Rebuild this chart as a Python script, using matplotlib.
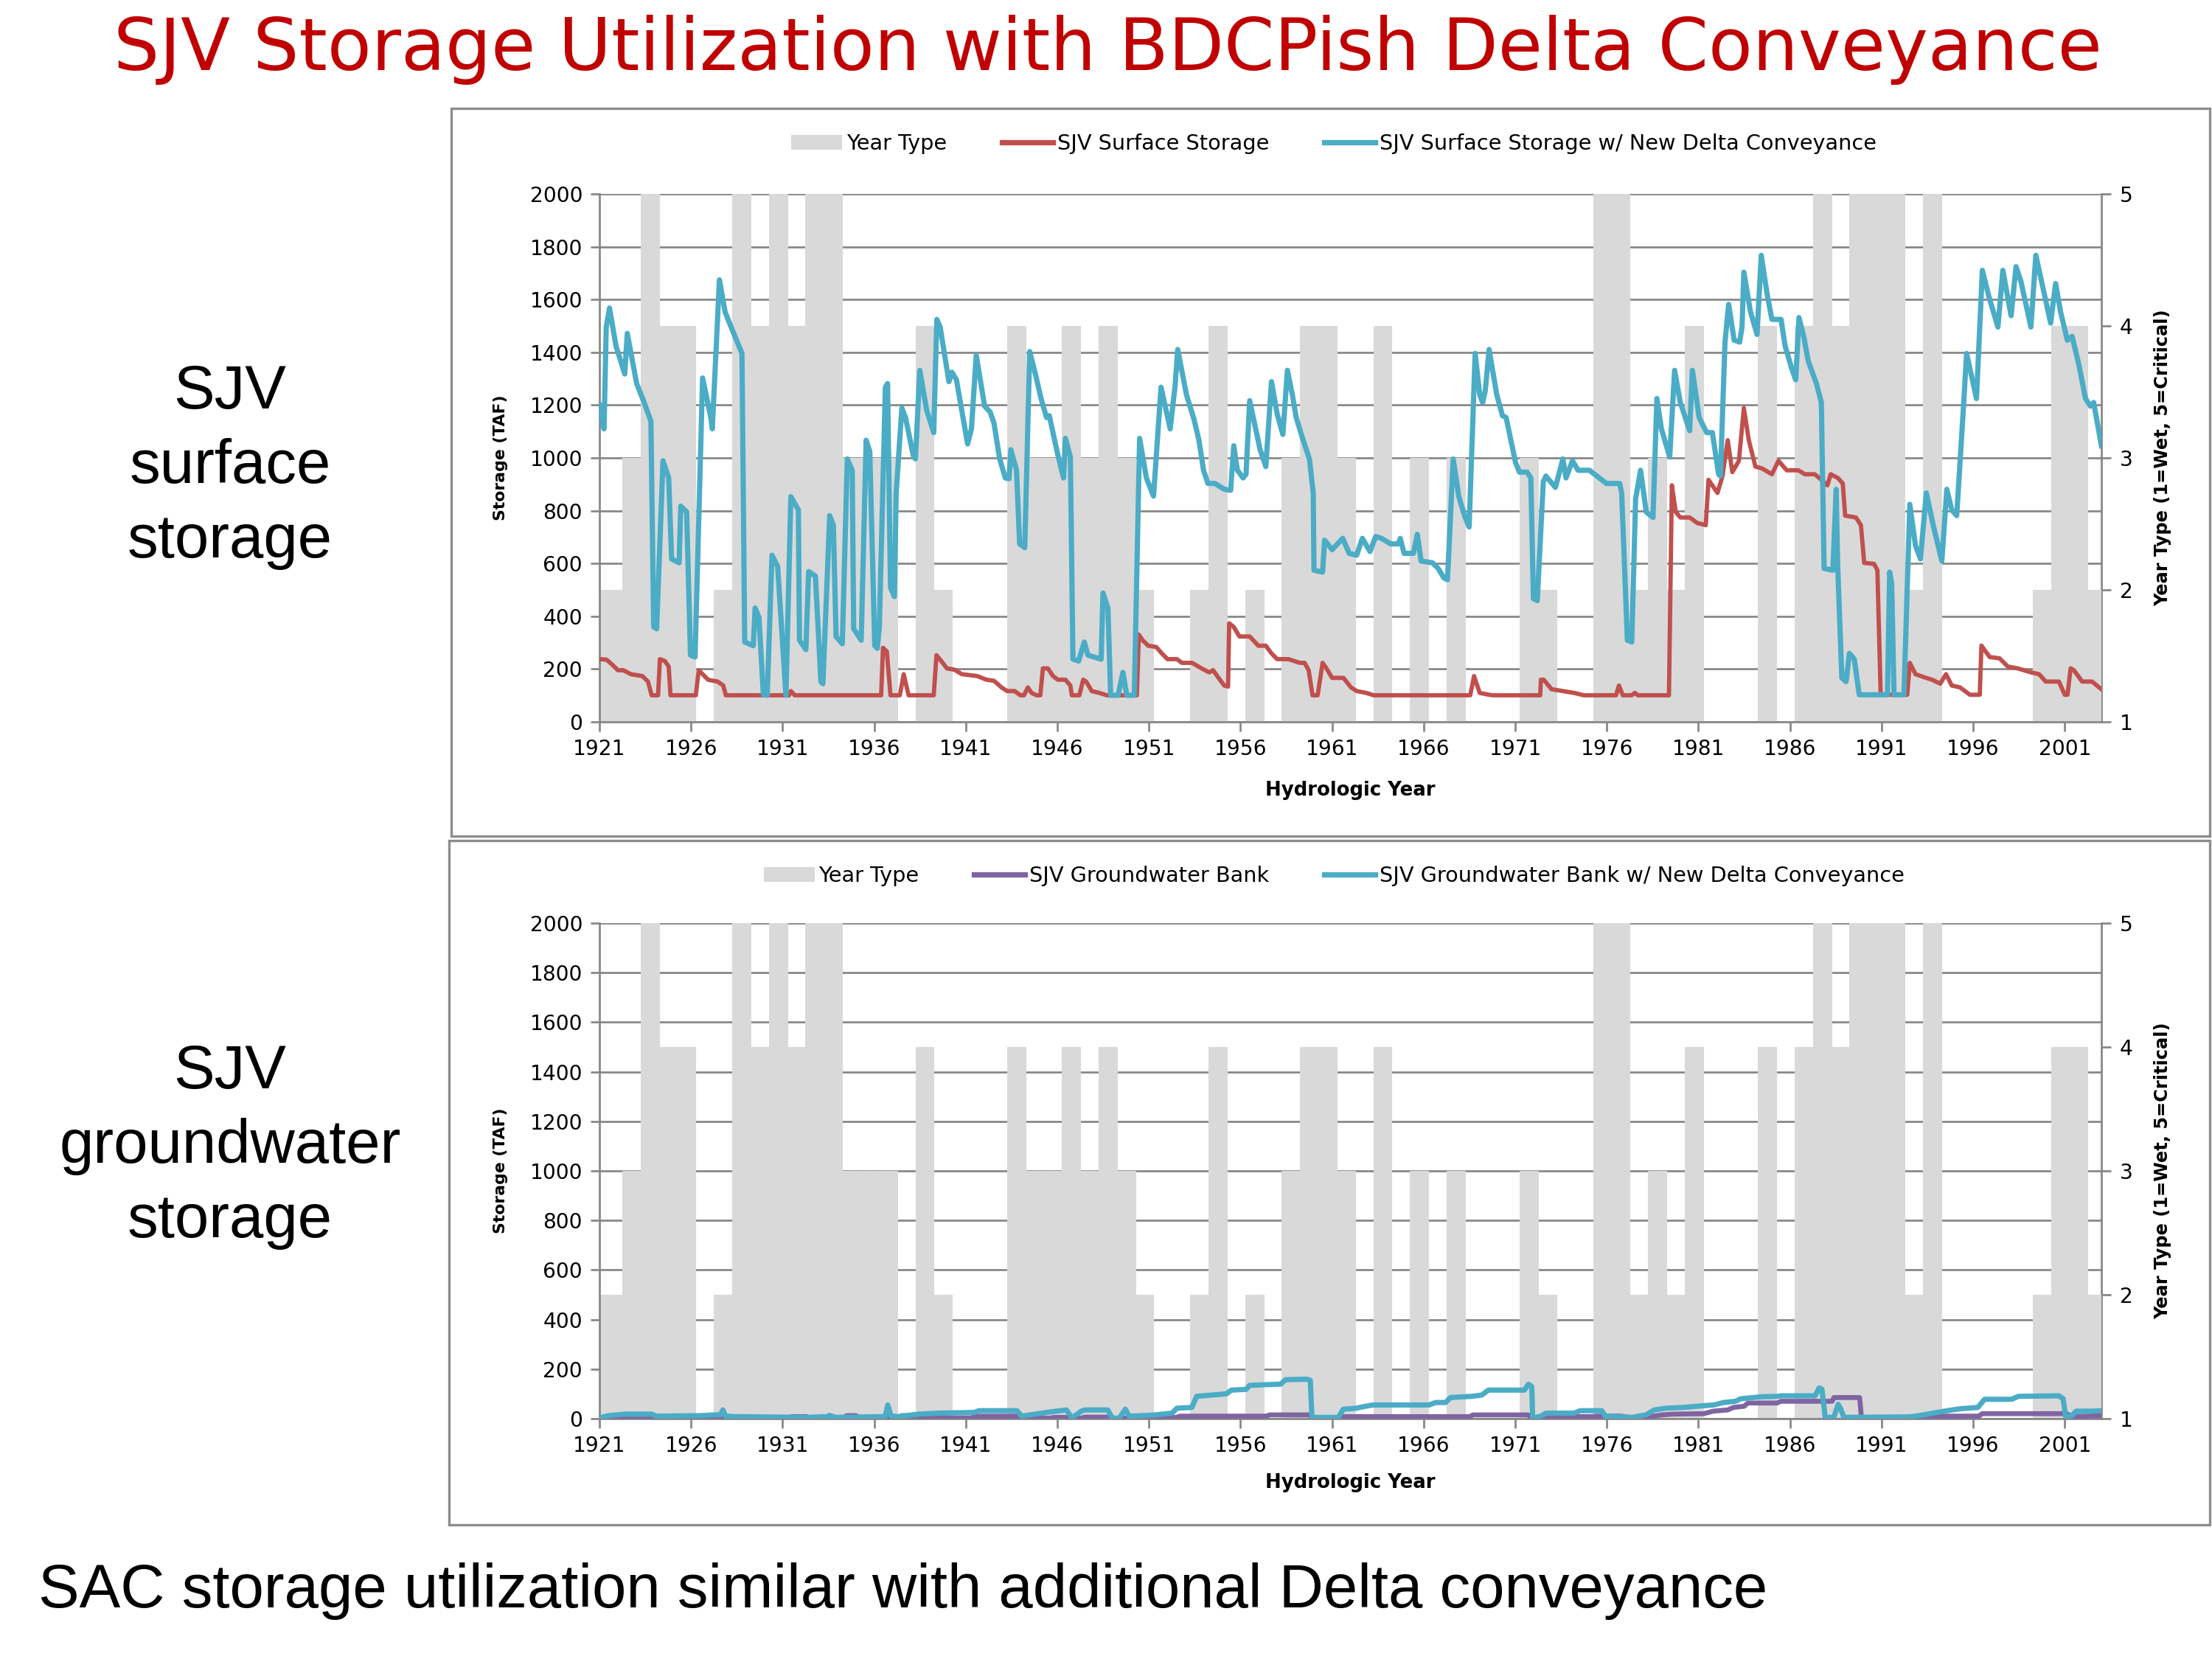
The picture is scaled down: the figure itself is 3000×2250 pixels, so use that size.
import matplotlib
matplotlib.use('Agg')

import matplotlib.pyplot as plt
from matplotlib.patches import Patch, Rectangle
from matplotlib.lines import Line2D
import numpy as np

# -----------------------------
# DATA
# -----------------------------
years = list(range(1921, 2004))
year_type = [2, 2, 3, 5, 4, 4, 1, 2, 5, 4,
             5, 4, 5, 5, 3, 3, 3, 1, 4, 2,
             1, 1, 1, 4, 3, 3, 4, 3, 4, 3,
             2, 1, 1, 2, 4, 1, 2, 1, 3, 4,
             4, 3, 1, 4, 1, 3, 1, 3, 1, 1,
             1, 3, 2, 1, 1, 5, 5, 2, 3, 2,
             4, 1, 1, 1, 4, 1, 4, 5, 4, 5,
             5, 5, 2, 5, 1, 1, 1, 1, 1, 2,
             4, 4, 2]

# (years after Oct 1921, TAF)
surface_base = [
    (0, 237), (0.39, 235), (0.70, 216), (1.01, 195), (1.31, 195), (1.72, 180), (2.34, 173),
    (2.65, 152), (2.85, 100), (3.20, 100), (3.30, 237), (3.57, 230), (3.78, 209), (3.88, 100),
    (5.26, 100), (5.42, 195), (5.63, 180), (5.93, 159), (6.45, 152), (6.76, 137), (6.90, 100),
    (10.35, 100), (10.45, 116), (10.66, 100), (15.38, 100), (15.48, 280), (15.69, 266),
    (15.89, 100), (16.40, 100), (16.61, 180), (16.88, 100), (18.25, 100), (18.40, 252),
    (18.66, 230), (18.97, 202), (19.38, 197), (19.79, 180), (20.62, 173), (21.13, 159),
    (21.54, 155), (21.95, 130), (22.26, 116), (22.67, 116), (22.98, 100), (23.18, 100),
    (23.39, 130), (23.59, 109), (23.86, 100), (24.07, 100), (24.21, 202), (24.48, 202),
    (24.76, 173), (25.03, 159), (25.44, 159), (25.71, 137), (25.79, 100), (26.20, 100),
    (26.41, 159), (26.57, 152), (26.88, 116), (27.29, 109), (27.70, 100), (29.34, 100),
    (29.45, 330), (29.65, 309), (29.96, 288), (30.40, 283), (30.70, 259), (31.01, 237),
    (31.53, 237), (31.80, 223), (32.36, 223), (32.87, 202), (33.29, 187), (33.50, 195),
    (33.80, 166), (34.11, 137), (34.32, 133), (34.38, 373), (34.63, 359), (34.94, 323),
    (35.50, 323), (35.97, 288), (36.38, 288), (36.69, 259), (37.00, 237), (37.62, 237),
    (38.24, 223), (38.50, 223), (38.72, 195), (38.93, 100), (39.21, 100), (39.48, 223),
    (39.69, 202), (40.00, 166), (40.62, 166), (41.03, 130), (41.34, 116), (41.86, 109),
    (42.27, 100), (47.54, 100), (47.75, 173), (48.06, 109), (48.57, 102), (48.78, 100),
    (51.36, 100), (51.40, 159), (51.55, 159), (51.98, 123), (52.60, 116), (53.22, 109),
    (53.74, 100), (55.50, 100), (55.66, 137), (55.87, 100), (56.35, 100), (56.53, 109),
    (56.70, 100), (58.39, 100), (58.55, 896), (58.76, 795), (59.01, 774), (59.52, 774),
    (59.94, 753), (60.40, 745), (60.55, 917), (61.04, 867), (61.31, 931), (61.60, 1067),
    (61.85, 946), (62.21, 989), (62.48, 1189), (62.75, 1067), (63.11, 967), (63.47, 960),
    (64.01, 938), (64.37, 989), (64.82, 953), (65.45, 953), (65.81, 938), (66.35, 938),
    (66.71, 917), (67.04, 896), (67.22, 938), (67.61, 924), (67.88, 903), (68.01, 781),
    (68.60, 774), (68.87, 745), (69.05, 602), (69.59, 598), (69.77, 574), (69.95, 102),
    (71.40, 102), (71.54, 223), (71.85, 180), (72.30, 169), (72.75, 159), (73.20, 144),
    (73.52, 180), (73.83, 137), (74.28, 130), (74.82, 102), (75.36, 102), (75.45, 288),
    (75.90, 245), (76.44, 240), (76.89, 209), (77.43, 202), (78.15, 187), (78.60, 180),
    (78.96, 152), (79.68, 152), (80.00, 102), (80.15, 102), (80.32, 202), (80.50, 195),
    (80.95, 152), (81.49, 152), (82.00, 123)]

surface_new = [
    (0, 1200), (0.25, 1110), (0.37, 1496), (0.55, 1568), (0.90, 1425), (1.38, 1318),
    (1.52, 1472), (2.03, 1282), (2.44, 1210), (2.81, 1139), (2.96, 359), (3.12, 352),
    (3.47, 989), (3.78, 924), (3.94, 617), (4.35, 602), (4.44, 817), (4.76, 795), (4.97, 252),
    (5.22, 245), (5.63, 1303), (6.08, 1153), (6.16, 1110), (6.55, 1675), (6.86, 1553),
    (7.27, 1482), (7.78, 1396), (7.93, 302), (8.40, 288), (8.50, 431), (8.71, 395),
    (8.95, 102), (9.16, 100), (9.42, 631), (9.73, 588), (10.18, 100), (10.45, 853),
    (10.86, 803), (10.92, 309), (11.27, 273), (11.42, 569), (11.79, 552), (12.09, 152),
    (12.20, 144), (12.57, 781), (12.77, 745), (12.92, 323), (13.26, 295), (13.53, 996),
    (13.80, 953), (13.88, 352), (14.29, 309), (14.56, 1067), (14.76, 1024), (15.03, 288),
    (15.17, 278), (15.28, 359), (15.61, 1268), (15.73, 1282), (15.89, 509), (16.10, 474),
    (16.20, 867), (16.51, 1189), (16.71, 1153), (17.13, 1010), (17.25, 996), (17.49, 1332),
    (17.86, 1182), (18.25, 1096), (18.42, 1525), (18.60, 1496), (19.08, 1289), (19.24, 1325),
    (19.49, 1296), (20.10, 1053), (20.31, 1110), (20.57, 1389), (21.03, 1196), (21.33, 1174),
    (21.54, 1132), (21.85, 996), (22.16, 924), (22.36, 921), (22.46, 1031), (22.77, 953),
    (22.94, 674), (23.22, 660), (23.49, 1403), (23.80, 1318), (24.11, 1225), (24.41, 1153),
    (24.56, 1160), (25.03, 1010), (25.34, 924), (25.44, 1074), (25.71, 1003), (25.85, 237),
    (26.16, 230), (26.47, 302), (26.67, 252), (27.39, 237), (27.49, 488), (27.76, 431),
    (27.91, 100), (28.32, 100), (28.58, 187), (28.79, 100), (29.20, 100), (29.49, 1074),
    (29.86, 924), (30.25, 855), (30.66, 1268), (31.16, 1110), (31.43, 1275), (31.57, 1411),
    (32.05, 1239), (32.46, 1146), (32.73, 1067), (32.98, 953), (33.22, 903), (33.60, 903),
    (34.11, 881), (34.46, 877), (34.63, 1046), (34.83, 953), (35.14, 924), (35.30, 938),
    (35.50, 1217), (35.87, 1096), (36.07, 1031), (36.38, 967), (36.69, 1289), (37.00, 1167),
    (37.31, 1089), (37.56, 1332), (37.83, 1239), (38.04, 1153), (38.35, 1082), (38.76, 996),
    (38.97, 867), (39.01, 574), (39.48, 567), (39.59, 688), (40.00, 652), (40.58, 695),
    (40.93, 638), (41.34, 631), (41.65, 695), (42.07, 645), (42.38, 702), (42.69, 695),
    (43.20, 674), (43.62, 674), (43.72, 695), (43.93, 638), (44.44, 638), (44.65, 710),
    (44.86, 609), (45.48, 602), (45.79, 581), (46.10, 545), (46.30, 538), (46.61, 996),
    (46.92, 853), (47.23, 781), (47.48, 738), (47.81, 1396), (48.06, 1239), (48.22, 1210),
    (48.36, 1253), (48.57, 1411), (48.99, 1239), (49.30, 1160), (49.50, 1153), (50.02, 981),
    (50.23, 946), (50.64, 946), (50.85, 924), (50.99, 466), (51.20, 459), (51.53, 910),
    (51.67, 931), (52.19, 888), (52.60, 996), (52.77, 924), (53.12, 989), (53.43, 953),
    (54.05, 953), (54.98, 903), (55.70, 903), (55.81, 867), (56.12, 309), (56.36, 302),
    (56.57, 845), (56.84, 953), (57.15, 795), (57.52, 774), (57.73, 1225), (57.98, 1110),
    (58.43, 1003), (58.70, 1332), (59.01, 1210), (59.52, 1103), (59.67, 1332), (60.04, 1153),
    (60.45, 1096), (60.76, 1096), (61.10, 938), (61.20, 931), (61.45, 1440), (61.65, 1582),
    (61.95, 1446), (62.25, 1439), (62.38, 1496), (62.48, 1704), (62.84, 1554), (63.20, 1468),
    (63.43, 1768), (63.74, 1625), (64.01, 1525), (64.51, 1525), (64.73, 1425), (65.09, 1339),
    (65.31, 1296), (65.49, 1532), (65.77, 1453), (65.99, 1368), (66.44, 1282), (66.71, 1210),
    (66.86, 581), (67.34, 574), (67.52, 881), (67.60, 595), (67.83, 166), (68.06, 152),
    (68.24, 259), (68.51, 237), (68.78, 102), (70.32, 102), (70.44, 567), (70.55, 524),
    (70.68, 102), (71.22, 102), (71.54, 824), (71.85, 667), (72.12, 617), (72.44, 867),
    (72.84, 738), (73.29, 609), (73.56, 881), (73.83, 803), (74.10, 781), (74.46, 1182),
    (74.64, 1396), (75.18, 1225), (75.50, 1711), (75.86, 1611), (76.35, 1496), (76.62, 1711),
    (77.07, 1539), (77.34, 1725), (77.61, 1668), (78.15, 1496), (78.42, 1768), (78.69, 1682),
    (79.23, 1511), (79.50, 1661), (79.77, 1554), (80.14, 1446), (80.40, 1461), (80.77, 1353),
    (81.13, 1225), (81.40, 1196), (81.58, 1210), (82.00, 1046)]

gw_base = [
    (0, 0), (0.7, 3), (2.7, 3), (3.0, 8), (5.4, 8), (5.6, 2), (10.3, 2), (10.5, 8), (11.3, 8),
    (11.5, 2), (13.3, 2), (13.5, 12), (14.0, 12), (14.2, 3), (16.3, 3), (16.5, 12), (17.4, 12),
    (17.6, 3), (20.3, 3), (20.5, 10), (22.8, 10), (23.0, 2), (24.6, 2), (24.8, 5), (25.5, 5),
    (25.7, 2), (26.3, 2), (26.5, 6), (27.8, 6), (28.0, 2), (28.7, 2), (28.9, 5), (31.5, 5),
    (31.7, 10), (36.4, 10), (36.6, 15), (38.8, 15), (38.9, 2), (40.5, 2), (40.6, 8), (47.5, 8),
    (47.7, 15), (50.7, 15), (50.9, 2), (51.4, 2), (51.6, 8), (54.2, 8), (54.4, 10), (55.8, 10),
    (56.4, 2), (57.1, 5), (58.0, 15), (58.6, 18), (60.3, 20), (60.8, 30), (61.6, 35), (61.9, 45),
    (62.5, 50), (62.7, 63), (64.3, 63), (64.5, 70), (67.3, 70), (67.4, 85), (68.8, 85),
    (68.9, 2), (72.3, 5), (72.5, 10), (75.3, 10), (75.5, 20), (80.1, 20), (80.4, 8), (82.0, 12)]

gw_new = [
    (0, 3), (0.5, 12), (1.4, 18), (2.84, 18), (3.11, 10), (5.54, 12), (6.25, 15), (6.6, 15),
    (6.74, 35), (6.88, 10), (7.33, 8), (11.29, 5), (12.45, 8), (12.55, 13), (12.9, 5),
    (15.6, 8), (15.74, 55), (15.92, 10), (16.32, 8), (17.4, 18), (18.48, 22), (20.45, 25),
    (20.72, 32), (22.79, 32), (23.06, 10), (24.41, 25), (25.49, 35), (25.8, 3), (26.3, 30),
    (26.5, 35), (27.75, 35), (28.0, 2), (28.38, 2), (28.71, 38), (28.92, 10), (29.64, 12),
    (30.36, 15), (31.26, 22), (31.53, 42), (32.34, 45), (32.61, 90), (33.42, 95), (34.23, 100),
    (34.5, 115), (35.31, 118), (35.49, 134), (36.38, 137), (37.19, 139), (37.46, 157),
    (38.63, 159), (38.81, 154), (38.9, 5), (40.34, 5), (40.61, 38), (41.33, 42), (41.69, 48),
    (42.23, 55), (45.29, 55), (45.65, 65), (46.19, 65), (46.46, 85), (47.63, 90), (48.17, 95),
    (48.53, 115), (50.5, 115), (50.72, 139), (50.9, 129), (50.95, 2), (51.4, 10), (51.67, 22),
    (53.2, 22), (53.56, 32), (54.72, 32), (54.91, 10), (56.39, 5), (57.13, 15), (57.59, 35),
    (58.24, 42), (59.16, 45), (60.27, 52), (60.82, 55), (61.38, 65), (62.03, 70), (62.3, 80),
    (63.41, 88), (64.34, 90), (64.52, 92), (66.37, 92), (66.59, 124), (66.74, 119), (66.92, 5),
    (67.39, 5), (67.63, 58), (67.76, 40), (67.94, 5), (71.55, 7), (72.29, 15), (73.03, 25),
    (73.58, 32), (74.32, 40), (75.25, 45), (75.62, 78), (77.1, 78), (77.47, 90), (79.69, 92),
    (79.91, 80), (80.06, 2), (80.43, 15), (80.61, 30), (81.54, 30), (82.0, 32)]

tick_years = list(range(1921, 2002, 5))

# -----------------------------
# STYLE
# -----------------------------
BAR = '#D9D9D9'
GRID = '#868686'
RED = '#C0504D'
BLUE = '#4BACC6'
PURPLE = '#8064A2'
START = 1921


def yt_to_storage(t):
    return (np.asarray(t, dtype=float) - 1) * 500.0


def storage_to_yt(s):
    return np.asarray(s, dtype=float) / 500.0 + 1


def xy(series):
    t, v = zip(*series)
    return START + np.array(t), np.array(v)


def panel(rect, base, new, base_color, base_lw, labels):
    ax = fig.add_axes(rect)
    ax.set_xlim(1921, 2003)
    ax.set_ylim(0, 2000)

    # year type bars, shifted like in the source chart
    yrs = np.array(years, dtype=float)
    left = np.clip(yrs - 0.75, 1921, 2003)
    right = np.clip(yrs + 0.25, 1921, 2003)
    ax.bar(left, yt_to_storage(year_type), width=right - left, align='edge',
           color=BAR, edgecolor=BAR, linewidth=0.5, zorder=1)

    bx, by = xy(base)
    nx, ny = xy(new)
    ax.plot(bx, by, color=base_color, lw=base_lw, zorder=3, solid_joinstyle='round')
    ax.plot(nx, ny, color=BLUE, lw=3.4, zorder=4, solid_joinstyle='round')

    ax.set_yticks(range(0, 2001, 200))
    ax.set_xticks(tick_years)
    ax.set_xticklabels([str(y) for y in tick_years])
    ax.grid(axis='y', color=GRID, lw=1.3)
    ax.set_axisbelow(True)
    for s in ['top', 'right']:
        ax.spines[s].set_visible(False)
    for s in ['left', 'bottom']:
        ax.spines[s].set_color(GRID)
        ax.spines[s].set_linewidth(1.3)
    ax.tick_params(axis='both', direction='out', length=6, width=1.3, color=GRID,
                   labelsize=13.5, pad=5)

    sec = ax.secondary_yaxis('right', functions=(storage_to_yt, yt_to_storage))
    sec.set_yticks([1, 2, 3, 4, 5])
    for sp in sec.spines.values():
        sp.set_color(GRID)
        sp.set_linewidth(1.3)
    sec.tick_params(direction='out', length=6, width=1.3, color=GRID, labelsize=13.5, pad=6)

    ax.text(0.5, -0.13, 'Hydrologic Year', transform=ax.transAxes, ha='center', va='center',
            fontsize=12.5, fontweight='bold')
    ax.text(-0.066, 0.5, 'Storage (TAF)', transform=ax.transAxes, rotation=90,
            ha='center', va='center', fontsize=10.5, fontweight='bold')
    ax.text(1.041, 0.5, 'Year Type (1=Wet, 5=Critical)', transform=ax.transAxes, rotation=90,
            ha='center', va='center', fontsize=11.6, fontweight='bold')

    handles = [Patch(facecolor=BAR, edgecolor='none'),
               Line2D([], [], color=base_color, lw=3.5),
               Line2D([], [], color=BLUE, lw=3.5)]
    ax.legend(handles, labels, loc='center', bbox_to_anchor=(0.489, 1.095), ncol=3,
              frameon=False, fontsize=13.8, handlelength=2.4, handletextpad=0.2,
              columnspacing=2.6)
    return ax


fig = plt.figure(figsize=(20, 15), dpi=150)

# frames around the two chart objects
fig.add_artist(Rectangle((0.204, 0.496), 0.795, 0.4387, transform=fig.transFigure,
                         fill=False, ec='#8C8C8C', lw=1.6))
fig.add_artist(Rectangle((0.203, 0.081), 0.796, 0.4123, transform=fig.transFigure,
                         fill=False, ec='#8C8C8C', lw=1.6))

panel([0.271, 0.565, 0.679, 0.318], surface_base, surface_new, RED, 2.8,
      ['Year Type', 'SJV Surface Storage', 'SJV Surface Storage w/ New Delta Conveyance'])
panel([0.271, 0.1449, 0.679, 0.2987], gw_base, gw_new, PURPLE, 3.2,
      ['Year Type', 'SJV Groundwater Bank', 'SJV Groundwater Bank w/ New Delta Conveyance'])

fig.text(0.5007, 0.970, 'SJV Storage Utilization with BDCPish Delta Conveyance',
         ha='center', va='center', fontsize=47, color='#C00000')

fig.text(0.104, 0.7187, 'SJV\nsurface\nstorage', ha='center', va='center',
         fontsize=40, family='Liberation Sans', linespacing=1.38)
fig.text(0.104, 0.309, 'SJV\ngroundwater\nstorage', ha='center', va='center',
         fontsize=40, family='Liberation Sans', linespacing=1.38)
fig.text(0.0173, 0.041, 'SAC storage utilization similar with additional Delta conveyance',
         ha='left', va='center', fontsize=40, family='Liberation Sans')

fig.savefig('out.png', dpi=150)
plt.close(fig)
